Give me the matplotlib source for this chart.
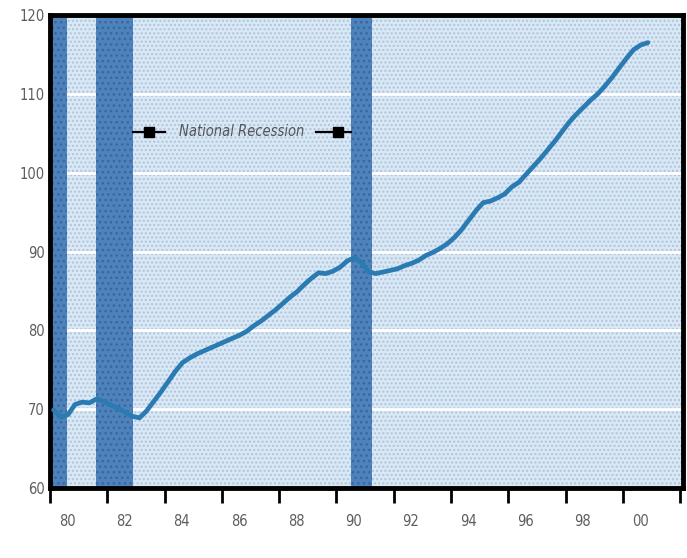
import matplotlib
matplotlib.use("Agg")
import matplotlib.pyplot as plt
from matplotlib.patches import Rectangle
import numpy as np

# quarterly index values, 1980 Q1 .. 2000 Q4
start_year = 1980
index_values = [
    69.9, 69.0, 69.3, 70.6,
    70.9, 70.8, 71.3, 71.0,
    70.5, 70.1, 69.6, 69.1,
    68.9, 69.8, 71.0, 72.2,
    73.5, 74.8, 75.9, 76.5,
    77.0, 77.4, 77.8, 78.2,
    78.6, 79.0, 79.4, 79.9,
    80.6, 81.2, 81.9, 82.6,
    83.4, 84.2, 84.9, 85.8,
    86.6, 87.3, 87.2, 87.5,
    88.0, 88.8, 89.2, 88.6,
    87.4, 87.2, 87.4, 87.6,
    87.8, 88.2, 88.5, 88.9,
    89.5, 89.9, 90.4, 91.0,
    91.8, 92.8, 94.0, 95.2,
    96.2, 96.4, 96.8, 97.3,
    98.2, 98.8, 99.8, 100.8,
    101.8, 102.9, 104.0, 105.2,
    106.4, 107.4, 108.3, 109.2,
    110.0, 111.0, 112.1, 113.3,
    114.5, 115.6, 116.2, 116.5,
]

# recession periods (start, end) in fractional years
recessions = [(1980.0, 1980.58), (1981.62, 1982.9), (1990.5, 1991.25)]

year_ticks = list(range(1980, 2003, 2))
year_labels = ["80", "82", "84", "86", "88", "90", "92", "94", "96", "98", "00"]
y_ticks = [60, 70, 80, 90, 100, 110, 120]

label_font = dict(family="DejaVu Sans", stretch="condensed", color="#5e5e5e", fontsize=10.5)

fig = plt.figure(figsize=(6.87, 5.58), dpi=100)
ax = fig.add_axes([0.0728, 0.1254, 0.9214, 0.8477])

ax.set_xlim(1980, 2002.1)
ax.set_ylim(60, 120)

# dotted light blue background
ax.set_facecolor("#d5eaf3")
plt.rcParams["hatch.linewidth"] = 1.0
ax.add_patch(Rectangle((1980, 60), 22.1, 60, facecolor="none", edgecolor="#bcbde3",
                       hatch="....", lw=0, zorder=0.5))

for y in y_ticks[1:-1]:
    ax.axhline(y, color="white", lw=2, zorder=1)

for s, e in recessions:
    ax.axvspan(s, e, facecolor="#4d82ba", edgecolor="none", zorder=2)
    ax.axvspan(s, e, facecolor="none", edgecolor="#3b64a0", hatch="...", lw=0, zorder=2.1)

quarters = start_year + 0.125 + 0.25 * np.arange(len(index_values))
ax.plot(quarters, index_values, color="#2b7bb3", lw=3.4, solid_capstyle="round", zorder=3)

# "National Recession" marker between the second and third recession
ann_y = 105.2
ax.plot([1982.9, 1984.0], [ann_y, ann_y], color="black", lw=1.6, zorder=4)
ax.plot([1989.3, 1990.5], [ann_y, ann_y], color="black", lw=1.6, zorder=4)
ax.plot([1983.45, 1990.05], [ann_y, ann_y], ls="none", marker="s", ms=6.5,
        color="black", zorder=4)
ax.text(1986.7, ann_y, "National Recession", ha="center", va="center", style="italic",
        family="DejaVu Sans", stretch="condensed", color="#555555", fontsize=10.5, zorder=4)

for sp in ax.spines.values():
    sp.set_linewidth(3.5)
    sp.set_color("black")

ax.set_yticks(y_ticks)
ax.set_yticklabels([str(v) for v in y_ticks], **label_font)
ax.tick_params(axis="y", length=0, pad=4)

ax.set_xticks(year_ticks)
ax.set_xticklabels([])
ax.tick_params(axis="x", which="major", length=11, width=2, direction="out", color="black")
ax.set_xticks([y + 0.6 for y in year_ticks[:-1]], minor=True)
ax.set_xticklabels(year_labels, minor=True, **label_font)
ax.tick_params(axis="x", which="minor", length=0, pad=19)

fig.savefig("out.png", dpi=100)
